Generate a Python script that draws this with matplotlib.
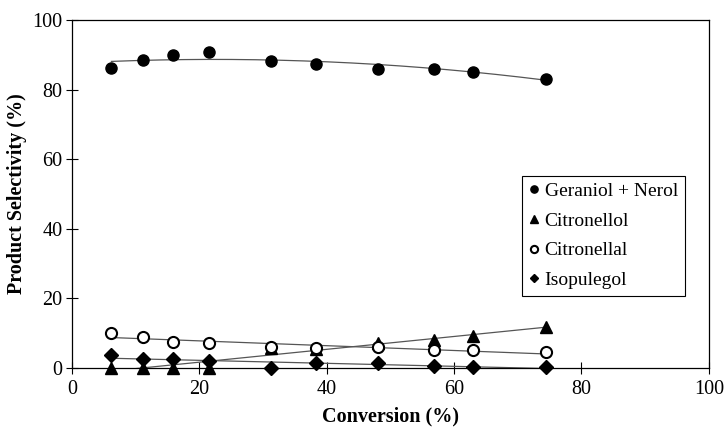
import numpy as np
import matplotlib
matplotlib.use("Agg")
import matplotlib.pyplot as plt

plt.rcParams['font.family'] = ['Liberation Serif', 'DejaVu Serif']

conversion = [6.2, 11.2, 15.9, 21.5, 31.3, 38.3, 48.1, 56.9, 63.0, 74.4]
geraniol_nerol = [86.2, 88.6, 90.0, 90.7, 88.3, 87.4, 85.9, 86.0, 85.2, 83.2]
citronellol = [0.0, 0.0, 0.0, 0.0, 5.7, 5.6, 7.2, 7.9, 9.3, 11.8]
citronellal = [10.1, 8.9, 7.6, 7.2, 5.9, 5.7, 6.0, 5.3, 5.1, 4.6]
isopulegol = [3.8, 2.5, 2.5, 2.1, 0.0, 1.3, 1.3, 0.6, 0.4, 0.3]

series = [
    ("Geraniol + Nerol", geraniol_nerol, 'o', 'black', 2),
    ("Citronellol", citronellol, '^', 'black', 1),
    ("Citronellal", citronellal, 'o', 'white', 1),
    ("Isopulegol", isopulegol, 'D', 'black', 1),
]

fig = plt.figure(figsize=(7.27, 4.36), dpi=100)
ax = fig.add_axes([0.099, 0.156, 0.876, 0.798])

x = np.array(conversion)
xs = np.linspace(x.min(), x.max(), 200)
handles = []
for name, vals, mk, fc, deg in series:
    coef = np.polyfit(x, np.array(vals), deg)
    ax.plot(xs, np.polyval(coef, xs), color='#555555', lw=0.9, zorder=2)
    ms = 6.8 if mk == 'D' else 8
    h = ax.plot(x, vals, linestyle='none', marker=mk, markersize=ms,
                markerfacecolor=fc, markeredgecolor='black',
                markeredgewidth=1.5 if fc == 'white' else 1.0,
                label=name, zorder=3, clip_on=False)[0]
    handles.append(h)

ax.set_xlim(0, 100)
ax.set_ylim(0, 100)
ax.set_xticks(range(0, 101, 20))
ax.set_yticks(range(0, 101, 20))
ax.tick_params(direction='inout', length=8, width=0.8, labelsize=14.5)
ax.tick_params(axis='x', pad=5)
ax.tick_params(axis='y', pad=3)
for s in ax.spines.values():
    s.set_linewidth(0.9)

ax.set_xlabel("Conversion (%)", fontsize=14.5, fontweight='bold', labelpad=5)
ax.set_ylabel("Product Selectivity (%)", fontsize=14.5, fontweight='bold', labelpad=4)

leg = ax.legend(handles=handles, loc='upper left', bbox_to_anchor=(0.707, 0.553),
                fontsize=14, markerscale=0.65, frameon=True, fancybox=False,
                edgecolor='black', framealpha=1, handlelength=0.5,
                handletextpad=0.3, borderpad=0.35, labelspacing=0.62,
                borderaxespad=0)
leg.get_frame().set_linewidth(0.8)

fig.savefig("out.png", dpi=100)
